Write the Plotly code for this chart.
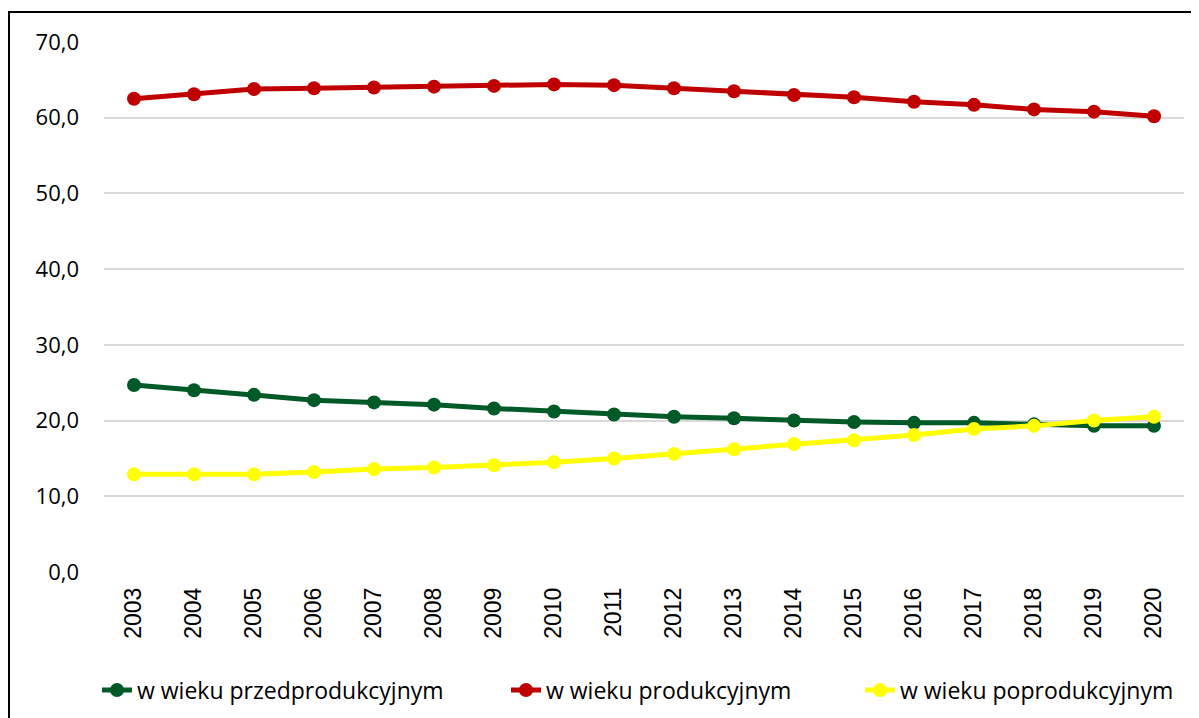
import plotly.graph_objects as go

years = [str(y) for y in range(2003, 2021)]
przed = [24.7, 24.0, 23.4, 22.7, 22.4, 22.1, 21.6, 21.2, 20.8, 20.5, 20.3, 20.0, 19.8, 19.7, 19.7, 19.5, 19.3, 19.3]
prod = [62.5, 63.1, 63.8, 63.9, 64.0, 64.1, 64.2, 64.4, 64.3, 63.9, 63.5, 63.0, 62.7, 62.1, 61.7, 61.1, 60.8, 60.2]
popr = [12.9, 12.9, 12.9, 13.2, 13.6, 13.8, 14.1, 14.5, 15.0, 15.6, 16.2, 16.9, 17.4, 18.1, 18.9, 19.3, 20.0, 20.5]

names = ["w wieku przedprodukcyjnym", "w wieku produkcyjnym", "w wieku poprodukcyjnym"]
colors = ["#005a27", "#c00000", "#ffff00"]
series = [przed, prod, popr]
legend_ids = ["legend", "legend2", "legend3"]

# page layout (the page body adds an 8px offset)
W, H = 1191, 710
L, R, T, B = 96, 15, 34, 146
pw, ph = W - L - R, H - T - B

def px_x(x):  # figure pixel -> paper x
    return (x - L) / pw

def px_y(y):  # figure pixel -> paper y
    return (H - B - y) / ph

fig = go.Figure()
for name, col, vals, lg in zip(names, colors, series, legend_ids):
    fig.add_trace(go.Scatter(
        x=years, y=vals, name=name, mode="lines+markers",
        line=dict(color=col, width=5),
        marker=dict(color=col, size=14),
        legend=lg,
    ))

text_starts = [137 - 8, 546 - 8, 900 - 8]
leg_font = dict(family="Open Sans, sans-serif", size=23, color="black")
legends = {}
for lg, ts in zip(legend_ids, text_starts):
    legends[lg] = dict(orientation="h", x=px_x(ts - 40), xanchor="left",
                       y=px_y(690 - 8), yanchor="middle", font=leg_font,
                       bgcolor="rgba(0,0,0,0)")

fig.update_layout(
    width=W, height=H,
    margin=dict(l=L, r=R, t=T, b=B, autoexpand=False),
    paper_bgcolor="white", plot_bgcolor="white",
    font=dict(family="Open Sans, sans-serif", color="black", size=22),
    separators=",.",
    showlegend=True,
    xaxis=dict(type="category", range=[-0.5, 17.5], tickangle=-90, showgrid=False,
               showline=False, ticks="", ticklabelstandoff=10, automargin=False,
               tickfont=dict(family="Liberation Sans, Arial, sans-serif", size=23)),
    yaxis=dict(range=[0, 70], dtick=10, tickformat=".1f", showgrid=True, gridcolor="#d9d9d9",
               gridwidth=1.5, zeroline=False, showline=False, ticks="", ticklabelstandoff=24,
               automargin=False, tickfont=dict(family="Open Sans, sans-serif", size=22)),
    shapes=[dict(type="rect", xref="paper", yref="paper",
                 x0=px_x(1), x1=px_x(W + 10),
                 y0=px_y(H + 10), y1=px_y(4),
                 line=dict(color="black", width=2), fillcolor="rgba(0,0,0,0)", layer="below")],
    **legends,
)

fig.write_html("out.html")
